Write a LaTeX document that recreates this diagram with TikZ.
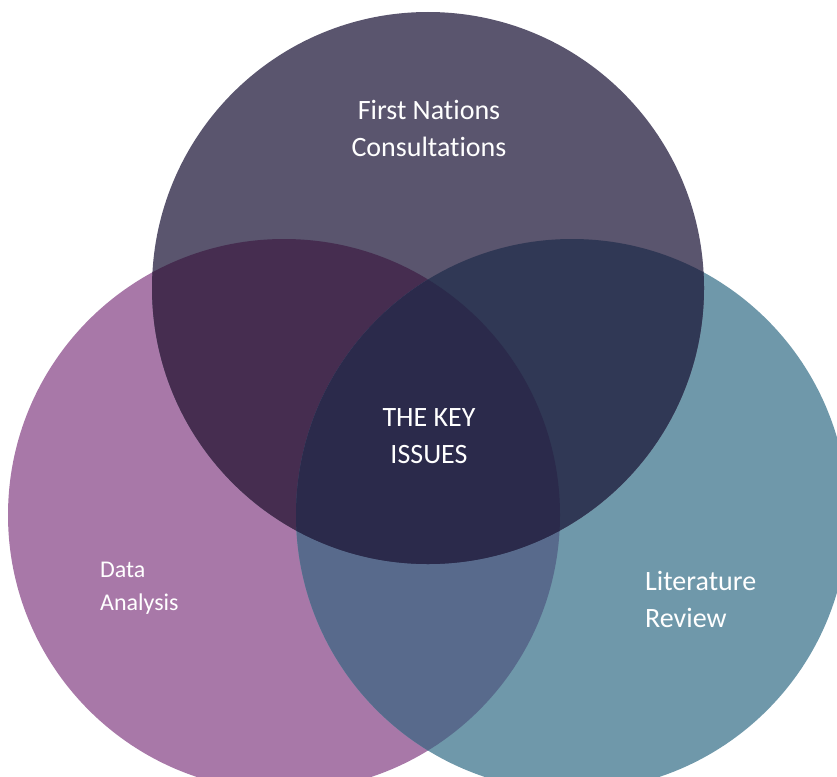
\documentclass[tikz,border=0pt]{standalone}
\usepackage{fontspec}
\setmainfont[Ligatures=NoCommon]{Carlito}

% region colours of the three-set Venn diagram
\definecolor{consultc}{HTML}{5A556E}
\definecolor{datac}{HTML}{A878A8}
\definecolor{litc}{HTML}{6F98AA}
\definecolor{consultdatac}{HTML}{462D50}
\definecolor{consultlitc}{HTML}{303855}
\definecolor{datalitc}{HTML}{586A8C}
\definecolor{keyc}{HTML}{2B2A4B}

\tikzset{
  label28/.style={text=white, inner sep=0pt, font=\fontsize{28}{37}\selectfont},
  label24/.style={text=white, inner sep=0pt, font=\fontsize{24}{33}\selectfont},
}

\begin{document}
\begin{tikzpicture}[x=1pt,y=-1pt]
  \useasboundingbox (0,0) rectangle (837,776);
  \def\R{276pt}
  \coordinate (cT) at (428,288);
  \coordinate (cL) at (284,515);
  \coordinate (cR) at (572,515);

  % single sets
  \fill[datac] (cL) circle[radius=\R];
  \fill[litc] (cR) circle[radius=\R];
  \fill[consultc] (cT) circle[radius=\R];

  % pairwise overlaps
  \begin{scope}
    \clip (cL) circle[radius=\R];
    \fill[consultdatac] (cT) circle[radius=\R];
    \fill[datalitc] (cR) circle[radius=\R];
  \end{scope}
  \begin{scope}
    \clip (cR) circle[radius=\R];
    \fill[consultlitc] (cT) circle[radius=\R];
  \end{scope}

  % common core
  \begin{scope}
    \clip (cL) circle[radius=\R];
    \clip (cR) circle[radius=\R];
    \fill[keyc] (cT) circle[radius=\R];
  \end{scope}

  % labels (base anchor sits on the last line)
  \node[label28, align=center, anchor=base] (consult) at (429,156) {First Nations\\Consultations};
  \node[label28, align=center, anchor=base] (key) at (429,463) {THE KEY\\ISSUES};
  \node[label24, align=left, anchor=base west] (data) at (100,610) {Data\\Analysis};
  \node[label28, align=left, anchor=base west] (lit) at (645,627) {Literature\\Review};
\end{tikzpicture}
\end{document}
